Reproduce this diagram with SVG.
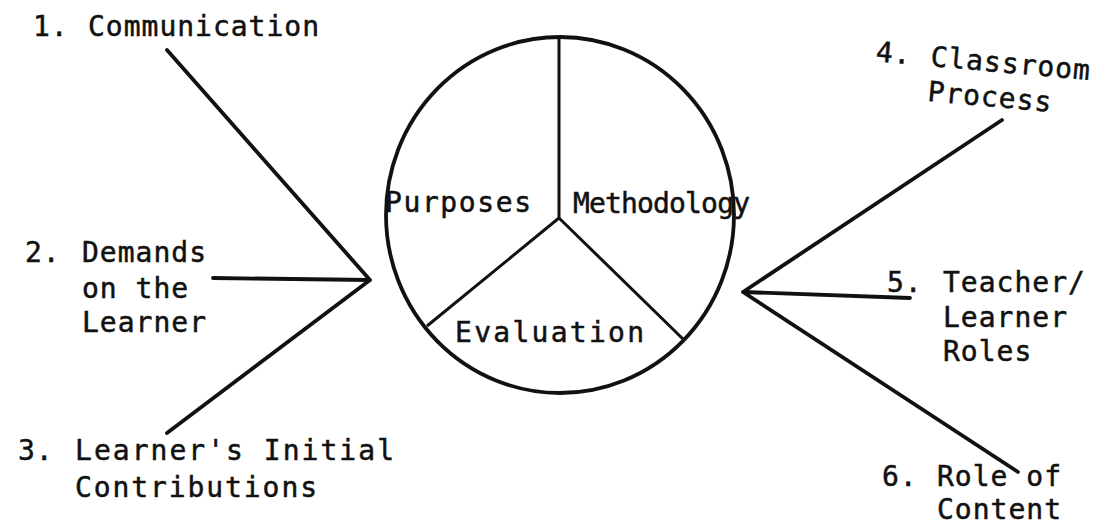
<svg xmlns="http://www.w3.org/2000/svg" width="1100" height="526" viewBox="0 0 1100 526">
<style>
text{font-family:"DejaVu Sans Mono","Liberation Mono",monospace;font-size:28px;fill:#111;stroke:#111;stroke-width:0.5;letter-spacing:1px}
.c{fill:none;stroke:#111;stroke-width:3.8;stroke-linecap:round}
.s{fill:none;stroke:#111;stroke-width:3}
</style>
<rect width="1100" height="526" fill="#fff"/>
<g id="wheel">
<ellipse cx="560" cy="215" rx="174" ry="178" fill="none" stroke="#111" stroke-width="3.8"/>
<path class="s" d="M559 37V218L427 326M559 218L683 339"/>
<text x="385" y="212" textLength="147">Purposes</text>
<text x="573" y="213" textLength="178">Methodology</text>
<text x="455" y="342" textLength="190">Evaluation</text>
</g>
<g id="connectors">
<path class="c" d="M167 50L370 280M213 278L370 280M167 433L370 280"/>
<path class="c" d="M1002 120L743 292M910 298L743 292M1018 472L743 292"/>
</g>
<g id="n1"><text x="33" y="36">1.</text><text x="88" y="36" textLength="232">Communication</text></g>
<g id="n2"><text x="25" y="262">2.</text><text x="82" y="262">Demands</text><text x="82" y="298">on the</text><text x="82" y="332">Learner</text></g>
<g id="n3"><text x="18" y="460">3.</text><text x="75" y="460" textLength="320">Learner's Initial</text><text x="75" y="497" textLength="243">Contributions</text></g>
<g id="n4" transform="rotate(5 930 66)"><text x="875" y="66">4.</text><text x="930" y="66">Classroom</text><text x="930" y="101">Process</text></g>
<g id="n5"><text x="887" y="292">5.</text><text x="943" y="292">Teacher/</text><text x="943" y="327">Learner</text><text x="943" y="361">Roles</text></g>
<g id="n6"><text x="882" y="486">6.</text><text x="937" y="486">Role of</text><text x="937" y="519">Content</text></g>
</svg>
